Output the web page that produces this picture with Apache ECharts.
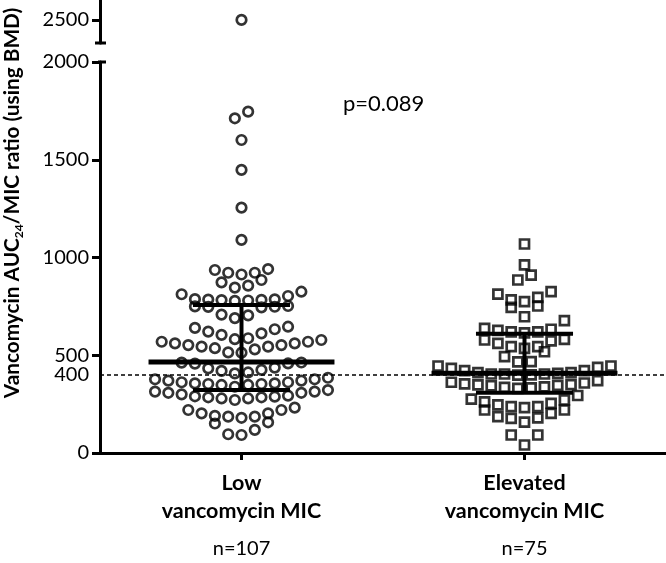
<!DOCTYPE html>
<html>
<head>
<meta charset="utf-8">
<script src="https://cdn.jsdelivr.net/npm/echarts@6/dist/echarts.min.js"></script>
<style>
html,body{margin:0;padding:0;background:#fff;}
#chart{width:666px;height:563px;}
</style>
</head>
<body>
<div id="chart"></div>
<script>
// ---------------- data ----------------
const GROUP_NAMES = ['Low', 'Elevated'];
const GROUP_SUBTITLES = ['vancomycin MIC', 'vancomycin MIC'];
const GROUP_N = ['n=107', 'n=75'];
const LOW_VALUES = [
  92, 96, 118, 151, 157,
  180, 186, 186, 190, 203, 203, 220, 220, 232,
  271, 279, 279, 285, 285, 288, 290, 293, 300, 308, 308, 314, 314, 322,
  339, 348, 348, 353, 353, 356, 356, 362, 362, 370, 370, 377, 377, 385,
  407, 412, 420, 425, 433, 437, 457, 458, 462, 463,
  513, 515, 530, 536, 544, 544, 552, 552, 561, 561, 569, 569, 578,
  582, 587, 604, 612, 621, 633, 640, 646,
  690, 704, 708, 745, 747, 748, 750, 752,
  778, 780, 782, 783, 785, 786, 787, 803, 812, 825,
  846, 856, 873, 885,
  913, 922, 922, 936, 941,
  1090, 1255, 1448, 1601, 1746, 1712, 2500
];
const ELEVATED_VALUES = [
  41, 92, 92,
  158, 177, 180, 186, 203, 220, 220,
  232, 237, 237, 246, 254, 262, 271, 276, 294,
  331, 333, 336, 338, 344, 346, 348, 350, 354, 358, 362, 370,
  398, 400, 404, 404, 404, 407, 411, 411, 421, 421, 433, 438, 445, 445,
  466, 467, 493, 518,
  535, 544, 544, 561, 574, 578, 581,
  614, 620, 620, 627, 633, 637, 677,
  697, 745, 752,
  774, 783, 796, 813, 825,
  885, 910,
  962, 1069
];
const MEDIANS = [465, 408];
const Q1S = [322, 308];
const Q3S = [757, 610];
const CUTOFF = 400;
const P_TEXT = 'p=0.089';
const Y_TICKS = [0, 500, 1000, 1500, 2000];
const Y_LABELS = [0, 400, 500, 1000, 1500, 2000];
const UPPER_TICKS = [2500];

// ---------------- layout constants ----------------
const FONT = 'Lato, "Open Sans", sans-serif';
const GROUP_X = [1, 3];          // positions on the x value axis (0..4)
const SLOT = 0.094;              // horizontal spacing of swarm slots (x units)
const ROW_SPAN = 66.5;           // values closer than this share a swarm row
const MED_HALF = 0.657;
const Q_HALF = 0.343;
const BREAK = 2000;

function swarm(values, center) {
  const sorted = values.slice().sort((a, b) => a - b);
  const rows = [];
  let cur = null;
  sorted.forEach(v => {
    if (!cur || v - cur[0] >= ROW_SPAN) { cur = [v]; rows.push(cur); }
    else cur.push(v);
  });
  const out = [];
  rows.forEach(row => {
    const n = row.length;
    row.forEach((v, i) => {
      let slot;
      if (n % 2) slot = i === 0 ? 0 : Math.ceil(i / 2) * (i % 2 ? -1 : 1);
      else slot = (Math.floor(i / 2) + 0.5) * (i % 2 ? 1 : -1);
      out.push([center + slot * SLOT, v]);
    });
  });
  return out;
}

const lowPts = swarm(LOW_VALUES, GROUP_X[0]);
const elePts = swarm(ELEVATED_VALUES, GROUP_X[1]);
const lowLower = lowPts.filter(p => p[1] <= BREAK);
const lowUpper = lowPts.filter(p => p[1] > BREAK);
const eleLower = elePts.filter(p => p[1] <= BREAK);

const statsData = GROUP_X.map((x, i) => [x, MEDIANS[i], Q1S[i], Q3S[i]]);

const axisLineStyle = { color: '#000', width: 3 };
const markerStyle = { color: 'rgba(0,0,0,0)', borderColor: '#000', borderWidth: 2.7 };
const plainNum = v => String(v);

const chart = echarts.init(document.getElementById('chart'), null, { renderer: 'canvas' });
const option = {
  animation: false,
  backgroundColor: '#fff',
  grid: [
    { left: 100, right: 0, top: 62, bottom: 110 },
    { left: 100, right: 0, top: 0, height: 43 }
  ],
  xAxis: [
    {
      gridIndex: 0, type: 'value', min: 0, max: 4,
      splitLine: { show: false },
      axisLine: { show: true, lineStyle: axisLineStyle },
      axisTick: { show: true, length: 7, lineStyle: { color: '#000', width: 3 }, customValues: GROUP_X },
      axisLabel: {
        customValues: GROUP_X, margin: 16, color: '#000',
        formatter: function (v) {
          const i = GROUP_X.indexOf(v);
          if (i < 0) return '';
          return '{b|' + GROUP_NAMES[i] + '}\n{b|' + GROUP_SUBTITLES[i] + '}\n{n|' + GROUP_N[i] + '}';
        },
        rich: {
          b: { fontFamily: FONT, fontWeight: 'bold', fontSize: 21.5, lineHeight: 28, color: '#000', align: 'center' },
          n: { fontFamily: FONT, fontSize: 20, lineHeight: 48, color: '#000', align: 'center' }
        }
      }
    },
    { gridIndex: 1, type: 'value', min: 0, max: 4, show: false }
  ],
  yAxis: [
    {
      gridIndex: 0, type: 'value', min: 0, max: 2000, interval: 500,
      splitLine: { show: false },
      axisLine: { show: true, lineStyle: axisLineStyle },
      axisTick: { show: true, length: 8, lineStyle: { color: '#000', width: 3 }, customValues: Y_TICKS },
      axisLabel: { customValues: Y_LABELS, formatter: plainNum, fontFamily: FONT, fontSize: 20, color: '#000', margin: 11 }
    },
    {
      gridIndex: 1, type: 'value', min: 2382, max: 2602,
      splitLine: { show: false },
      axisLine: { show: true, lineStyle: axisLineStyle },
      axisTick: { show: true, length: 8, lineStyle: { color: '#000', width: 3 }, customValues: UPPER_TICKS },
      axisLabel: { customValues: UPPER_TICKS, formatter: plainNum, fontFamily: FONT, fontSize: 20, color: '#000', margin: 11 }
    }
  ],
  series: [
    {
      type: 'scatter', xAxisIndex: 0, yAxisIndex: 0, data: lowLower,
      symbol: 'circle', symbolSize: 9.5, itemStyle: markerStyle, z: 2
    },
    {
      type: 'scatter', xAxisIndex: 1, yAxisIndex: 1, data: lowUpper,
      symbol: 'circle', symbolSize: 9.5, itemStyle: markerStyle, z: 2
    },
    {
      type: 'scatter', xAxisIndex: 0, yAxisIndex: 0, data: eleLower,
      symbol: 'rect', symbolSize: 9, itemStyle: markerStyle, z: 2
    },
    {
      type: 'custom', xAxisIndex: 0, yAxisIndex: 0, data: statsData, z: 5,
      renderItem: function (params, api) {
        const x = api.value(0);
        const pm = api.coord([x, api.value(1)]);
        const p1 = api.coord([x, api.value(2)]);
        const p3 = api.coord([x, api.value(3)]);
        const mw = api.size([MED_HALF, 0])[0];
        const qw = api.size([Q_HALF, 0])[0];
        const st = (w) => ({ stroke: '#000', lineWidth: w, fill: null });
        return {
          type: 'group',
          children: [
            { type: 'line', shape: { x1: pm[0] - mw, y1: pm[1], x2: pm[0] + mw, y2: pm[1] }, style: st(5) },
            { type: 'line', shape: { x1: p1[0] - qw, y1: p1[1], x2: p1[0] + qw, y2: p1[1] }, style: st(4) },
            { type: 'line', shape: { x1: p3[0] - qw, y1: p3[1], x2: p3[0] + qw, y2: p3[1] }, style: st(4) },
            { type: 'line', shape: { x1: p3[0], y1: p3[1], x2: p1[0], y2: p1[1] }, style: st(4) }
          ]
        };
      },
      markLine: {
        silent: true, symbol: ['none', 'none'], label: { show: false },
        lineStyle: { color: '#000', type: [4, 3], width: 1.5 },
        data: [{ yAxis: CUTOFF }]
      }
    }
  ],
  graphic: [
    {
      type: 'text', x: 12, y: 203, rotation: Math.PI / 2,
      style: {
        text: '{m|Vancomycin AUC}{s|24}{m|/MIC ratio (using BMD)}',
        align: 'center', verticalAlign: 'middle',
        rich: {
          m: { fontFamily: FONT, fontWeight: 'bold', fontSize: 20.8, fill: '#000', lineHeight: 26, verticalAlign: 'middle' },
          s: { fontFamily: FONT, fontWeight: 'bold', fontSize: 12, fill: '#000', lineHeight: 26, verticalAlign: 'bottom', padding: [14, 0, 0, 0] }
        }
      }
    },
    {
      type: 'text', left: 343, top: 93,
      style: { text: P_TEXT, fontFamily: FONT, fontSize: 22, fill: '#000' }
    },
    { type: 'line', shape: { x1: 95, y1: 43, x2: 106, y2: 43 }, style: { stroke: '#000', lineWidth: 3 } },
    { type: 'line', shape: { x1: 98, y1: 62, x2: 106, y2: 62 }, style: { stroke: '#000', lineWidth: 3 } }
  ]
};
chart.setOption(option);
</script>
</body>
</html>
